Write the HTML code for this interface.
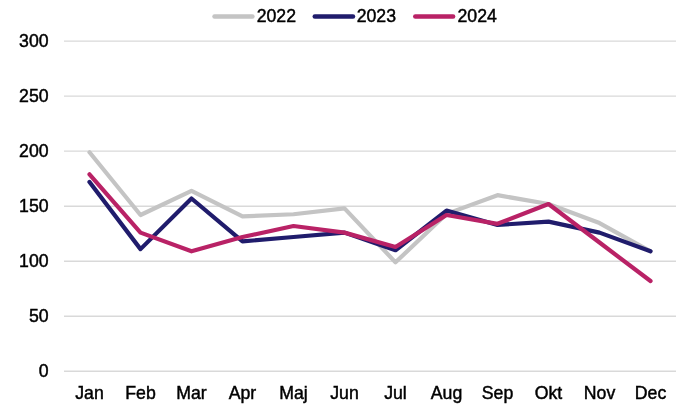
<!DOCTYPE html>
<html lang="da"><head><meta charset="utf-8"><title>Chart</title>
<style>html,body{margin:0;padding:0;background:#fff}body{width:700px;height:408px;overflow:hidden}svg{display:block}text{font-family:"Liberation Sans",Arial,sans-serif;font-size:17.7px;fill:#000;stroke:#000;stroke-width:0.45px}</style></head><body>
<svg width="700" height="408" viewBox="0 0 700 408">
<rect width="700" height="408" fill="#fff"/>
<g stroke="#D9D9D9" stroke-width="1.4" fill="none">
<line x1="64" y1="371.30" x2="676" y2="371.30"/>
<line x1="64" y1="316.27" x2="676" y2="316.27"/>
<line x1="64" y1="261.23" x2="676" y2="261.23"/>
<line x1="64" y1="206.20" x2="676" y2="206.20"/>
<line x1="64" y1="151.17" x2="676" y2="151.17"/>
<line x1="64" y1="96.13" x2="676" y2="96.13"/>
<line x1="64" y1="41.10" x2="676" y2="41.10"/>
</g>
<g text-anchor="end">
<text x="48.6" y="376.90">0</text>
<text x="48.6" y="321.87">50</text>
<text x="48.6" y="266.83">100</text>
<text x="48.6" y="211.80">150</text>
<text x="48.6" y="156.77">200</text>
<text x="48.6" y="101.73">250</text>
<text x="48.6" y="46.70">300</text>
</g>
<g text-anchor="middle">
<text x="89.50" y="398.6">Jan</text>
<text x="140.50" y="398.6">Feb</text>
<text x="191.50" y="398.6">Mar</text>
<text x="242.50" y="398.6">Apr</text>
<text x="293.50" y="398.6">Maj</text>
<text x="344.50" y="398.6">Jun</text>
<text x="395.50" y="398.6">Jul</text>
<text x="446.50" y="398.6">Aug</text>
<text x="497.50" y="398.6">Sep</text>
<text x="548.50" y="398.6">Okt</text>
<text x="599.50" y="398.6">Nov</text>
<text x="650.50" y="398.6">Dec</text>
</g>
<g fill="none" stroke-width="4.2" stroke-linejoin="round" stroke-linecap="round">
<polyline stroke="#C4C4C4" points="89.50,152.27 140.50,215.01 191.50,190.79 242.50,216.44 293.50,214.23 344.50,208.40 395.50,262.33 446.50,213.90 497.50,195.19 548.50,204.00 599.50,223.04 650.50,251.33"/>
<polyline stroke="#201C6C" points="89.50,181.99 140.50,249.13 191.50,198.50 242.50,241.42 293.50,237.02 344.50,232.62 395.50,250.23 446.50,210.60 497.50,224.91 548.50,221.61 599.50,232.62 650.50,251.33"/>
<polyline stroke="#B92266" points="89.50,174.28 140.50,232.62 191.50,251.33 242.50,237.02 293.50,226.01 344.50,232.62 395.50,246.92 446.50,215.01 497.50,223.81 548.50,204.00 599.50,242.52 650.50,281.05"/>
</g>
<g fill="none" stroke-width="4.5" stroke-linecap="round">
<line stroke="#C4C4C4" x1="214.5" y1="16.5" x2="252.4" y2="16.5"/>
<line stroke="#201C6C" x1="314.8" y1="16.5" x2="353" y2="16.5"/>
<line stroke="#B92266" x1="415.3" y1="16.5" x2="453.1" y2="16.5"/>
</g>
<g>
<text x="256.7" y="21.6">2022</text>
<text x="356.7" y="21.6">2023</text>
<text x="457.5" y="21.6">2024</text>
</g>
</svg></body></html>
